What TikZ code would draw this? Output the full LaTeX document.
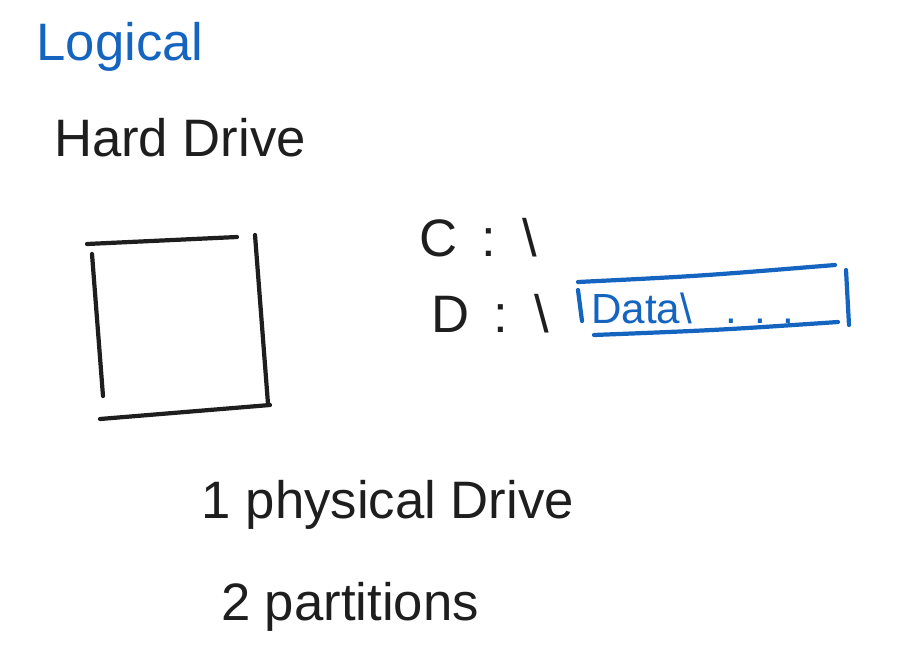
\documentclass[tikz,border=0pt]{standalone}
\usepackage{fontspec}
\setmainfont{Liberation Sans}
\definecolor{InkBlue}{HTML}{1565C0}
\definecolor{InkBlack}{HTML}{1E1E1E}
\usetikzlibrary{positioning}

\begin{document}
\begin{tikzpicture}[x=0.02cm, y=-0.02cm,
  ink/.style={line width=2.4pt, line cap=round, InkBlack},
  inkblue/.style={ink, InkBlue},
  hand/.style={font=\fontsize{30}{34}\selectfont, text=InkBlack, inner sep=0pt},
  handblue/.style={hand, text=InkBlue},
]
  \useasboundingbox (0,0) rectangle (906,666);

  % titles
  \node[handblue] (title) at (120,47) {Logical};
  \node[hand] (drive) at (180,138) {Hard Drive};

  % the drive
  \draw[ink] (87,244) -- (237,237);
  \draw[ink] (255,235) -- (268,404);
  \draw[ink] (100,419) -- (270,405);
  \draw[ink] (92,254) -- (103,396);

  % partitions
  \node[hand] (cdrive) at (478,238) {C\hspace{0.45em}:\hspace{0.5em}\textbackslash};
  \node[hand] (ddrive) at (490,314) {D\hspace{0.45em}:\hspace{0.5em}\textbackslash};

  % folder box
  \node[handblue, font=\fontsize{24}{28}\selectfont] (data) at (693,308) {Data\textbackslash\hspace{0.8em}.\hspace{0.4em}.\hspace{0.4em}.};
  \draw[inkblue] (578,282) .. controls (700,276) .. (835,265);
  \draw[inkblue] (846,270) -- (849,325);
  \draw[inkblue] (594,335) .. controls (720,330) .. (838,322);
  \draw[inkblue] (578,290) -- (582,321);

  % notes
  \node[hand] (phys) at (388,505) {1 physical Drive};
  \node[hand] (parts) at (350,607) {2 partitions};
\end{tikzpicture}
\end{document}
